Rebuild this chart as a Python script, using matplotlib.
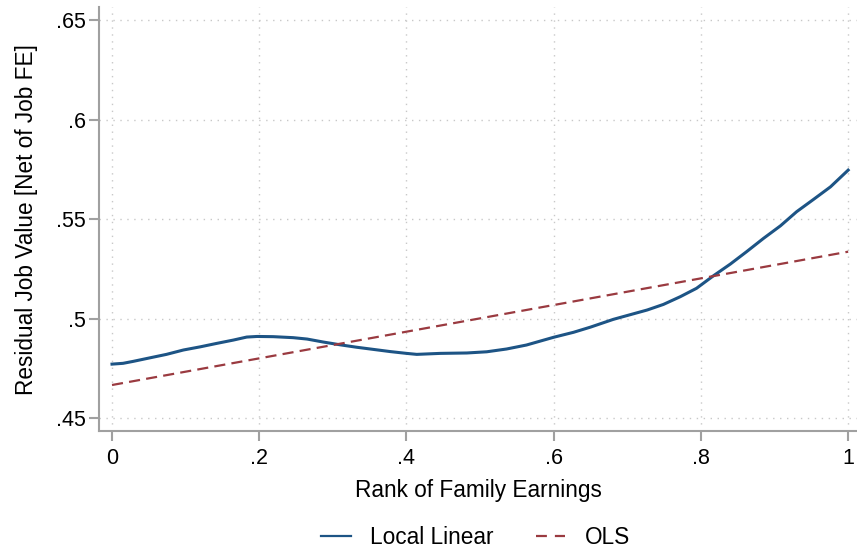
import matplotlib
matplotlib.use("Agg")
import matplotlib.pyplot as plt

# Data
rank = [0.0, 0.015, 0.029, 0.052, 0.074, 0.097, 0.120, 0.142, 0.165, 0.183,
        0.197, 0.219, 0.246, 0.265, 0.287, 0.310, 0.332, 0.355, 0.378, 0.400,
        0.414, 0.446, 0.482, 0.509, 0.536, 0.563, 0.600, 0.627, 0.650, 0.681,
        0.727, 0.749, 0.772, 0.794, 0.817, 0.840, 0.862, 0.885, 0.908, 0.930,
        0.953, 0.976, 1.0]
local_linear = [0.4771, 0.4775, 0.4785, 0.4803, 0.4820, 0.4842, 0.4858, 0.4875,
                0.4892, 0.4907, 0.4910, 0.4909, 0.4904, 0.4897, 0.4882, 0.4868,
                0.4856, 0.4845, 0.4834, 0.4825, 0.4820, 0.4825, 0.4827, 0.4833,
                0.4847, 0.4867, 0.4906, 0.4931, 0.4957, 0.4996, 0.5043, 0.5071,
                0.5110, 0.5152, 0.5215, 0.5274, 0.5336, 0.5403, 0.5466, 0.5537,
                0.5599, 0.5662, 0.5746]
ols_x = [0.0, 1.0]
ols_y = [0.4666, 0.5336]

xticks = [0, 0.2, 0.4, 0.6, 0.8, 1.0]
xticklabels = ["0", ".2", ".4", ".6", ".8", "1"]
yticks = [0.45, 0.50, 0.55, 0.60, 0.65]
yticklabels = [".45", ".5", ".55", ".6", ".65"]

plt.rcParams['font.family'] = ['Liberation Sans', 'DejaVu Sans']

fig = plt.figure(figsize=(8.57, 5.5), dpi=100)
ax = fig.add_axes([0.1155, 0.2164, 0.8845, 0.7706])

navy = "#1d5485"
maroon = "#9a3a40"
ax.plot(rank, local_linear, color=navy, lw=2.2, label="Local Linear",
        solid_joinstyle='round')
ax.plot(ols_x, ols_y, color=maroon, lw=1.6, ls=(0, (5, 2.8)), label="OLS")

ax.set_xlim(-0.0177, 1.012)
ax.set_ylim(0.4435, 0.6565)
ax.set_xticks(xticks)
ax.set_xticklabels(xticklabels)
ax.set_yticks(yticks)
ax.set_yticklabels(yticklabels)

ax.grid(True, color="#c8c8c8", ls=(0, (1, 4)), lw=1.0)
for s in ["top", "right"]:
    ax.spines[s].set_visible(False)
for s in ["left", "bottom"]:
    ax.spines[s].set_color("#a0a0a0")
    ax.spines[s].set_linewidth(1.5)
ax.tick_params(axis='both', colors="#a0a0a0", width=1.5, length=7.5, labelsize=15.5,
               labelcolor="black")
ax.tick_params(axis='x', pad=5)
ax.tick_params(axis='y', pad=2)

ax.set_xlabel("Rank of Family Earnings", fontsize=16.3, labelpad=7)
ax.set_ylabel("Residual Job Value [Net of Job FE]", fontsize=16.3, labelpad=13)

leg = fig.legend(loc="center", bbox_to_anchor=(0.555, 0.022), ncol=2, frameon=False,
                 fontsize=16.3, handlelength=1.3, columnspacing=1.87,
                 handletextpad=0.85)
hs = leg.legend_handles
hs[0].set_linewidth(1.6)
hs[1].set_linewidth(1.6)
hs[1].set_linestyle((0, (4.9, 3.6)))

fig.savefig("out.png", dpi=100)
